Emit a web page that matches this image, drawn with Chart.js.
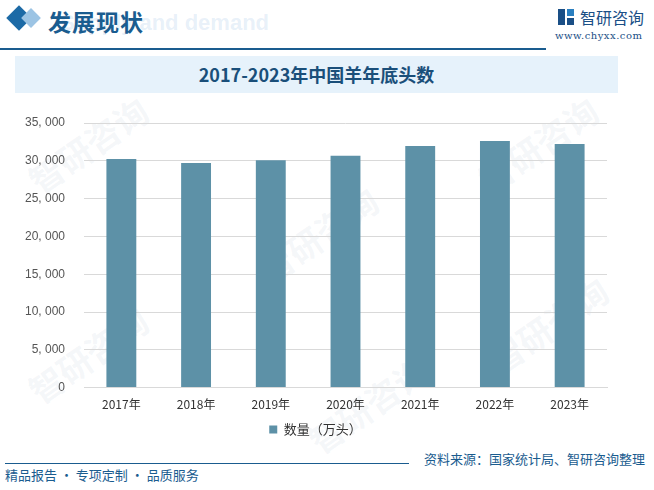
<!DOCTYPE html>
<html><head><meta charset="utf-8">
<script src="https://cdn.jsdelivr.net/npm/chart.js@4/dist/chart.umd.min.js"></script>
<style>
html,body{margin:0;padding:0;background:#fff;}
#wrap{position:relative;width:654px;height:490px;overflow:hidden;background:#fff;font-family:"Noto Sans CJK SC",sans-serif;}
.abs{position:absolute;}
#cbox{position:absolute;left:0;top:100px;width:654px;height:346px;}
.wm{position:absolute;color:rgba(150,170,200,0.10);font-size:34px;font-weight:bold;transform:rotate(-35deg);white-space:nowrap;}
</style></head><body>
<div id="wrap">
  <div class="wm" style="left:20px;top:120px;">智研咨询</div>
  <div class="wm" style="left:250px;top:210px;">智研咨询</div>
  <div class="wm" style="left:470px;top:120px;">智研咨询</div>
  <div class="wm" style="left:20px;top:330px;">智研咨询</div>
  <div class="wm" style="left:300px;top:380px;">智研咨询</div>
  <div class="wm" style="left:480px;top:300px;">智研咨询</div>
  <div class="abs" style="left:60px;top:10px;font-size:22px;font-weight:bold;color:rgba(120,170,220,0.18);font-family:'Liberation Sans',sans-serif;">Supply and demand</div>
  <div class="abs" style="left:10px;top:9px;width:18px;height:18px;background:#1c6aa6;transform:rotate(45deg);"></div>
  <div class="abs" style="left:24px;top:11px;width:14px;height:14px;background:#9cc4e4;transform:rotate(45deg);"></div>
  <div class="abs" style="left:48px;top:4px;font-size:23px;font-weight:bold;color:#1a5c8f;letter-spacing:1px;">发展现状</div>
  <div class="abs" style="left:0px;top:48px;width:546px;height:2px;background:#1a5c8f;"></div>
  <div class="abs" style="left:558px;top:9px;width:16px;height:16px;">
    <div class="abs" style="left:0;top:0;width:7px;height:16px;background:#1a4f86;"></div>
    <div class="abs" style="left:9px;top:0;width:7px;height:7px;background:#2a7fc0;"></div>
    <div class="abs" style="left:9px;top:9px;width:7px;height:7px;background:#1a4f86;"></div>
  </div>
  <div class="abs" style="left:580px;top:5px;font-size:16px;color:#1a4f86;">智研咨询</div>
  <div class="abs" style="left:555px;top:30px;font-size:10px;color:#1a4f86;font-family:'DejaVu Serif',serif;letter-spacing:0.5px;">www.chyxx.com</div>
  <div class="abs" style="left:15px;top:56px;width:603px;height:37px;background:#e6f2fb;"></div>
  <div class="abs" style="left:15px;top:56px;width:603px;height:37px;line-height:37px;text-align:center;font-size:18px;font-weight:bold;color:#1a4f7a;font-family:'Noto Sans CJK SC',serif;">2017-2023年中国羊年底头数</div>
  <div id="cbox"><canvas id="c"></canvas></div>
  <div class="abs" style="left:5px;top:463px;width:404px;height:1px;background:#1a5c8f;"></div>
  <div class="abs" style="left:5px;top:465px;font-size:13px;color:#1a5c8f;">精品报告 · 专项定制 · 品质服务</div>
  <div class="abs" style="left:424px;top:449px;font-size:13px;color:#1a5c8f;">资料来源：国家统计局、智研咨询整理</div>
</div>
<script>
const categories = ["2017年","2018年","2019年","2020年","2021年","2022年","2023年"];
const seriesName = "数量（万头）";
const sheepCounts = [30231.7, 29713.5, 30072.1, 30654.8, 31969.3, 32627.3, 32232.6];
const yTicks = [0, 5000, 10000, 15000, 20000, 25000, 30000, 35000];

new Chart(document.getElementById('c'), {
  type: 'bar',
  data: {
    labels: categories,
    datasets: [{
      label: seriesName,
      data: sheepCounts,
      backgroundColor: '#5d91a7',
      categoryPercentage: 0.4,
      barPercentage: 1.0
    }]
  },
  options: {
    responsive: true,
    maintainAspectRatio: false,
    animation: false,
    layout: { padding: { left: 24, right: 47, top: 23, bottom: 0 } },
    plugins: {
      legend: {
        position: 'bottom',
        labels: { boxWidth: 8, boxHeight: 8, color: '#333', font: { size: 13, family: "'Noto Sans CJK SC'" }, padding: 9 }
      },
      tooltip: { enabled: false }
    },
    scales: {
      x: {
        grid: { display: false },
        border: { color: '#d9d9d9' },
        ticks: { color: '#333', font: { size: 12, family: "'Noto Sans CJK SC'" }, padding: 2 }
      },
      y: {
        min: 0, max: 35000,
        afterBuildTicks: (ax) => { ax.ticks = yTicks.map(v => ({ value: v })); },
        afterFit: (ax) => { ax.width = 60; },
        grid: { color: '#d9d9d9', drawTicks: true, tickLength: 17, tickColor: 'rgba(0,0,0,0)' },
        border: { display: false },
        ticks: {
          color: '#555', padding: 2,
          font: { size: 12, family: "'Liberation Sans'" },
          callback: (v) => v.toLocaleString('en-US').replace(',', ', ')
        }
      }
    }
  }
});
</script>
</body></html>
